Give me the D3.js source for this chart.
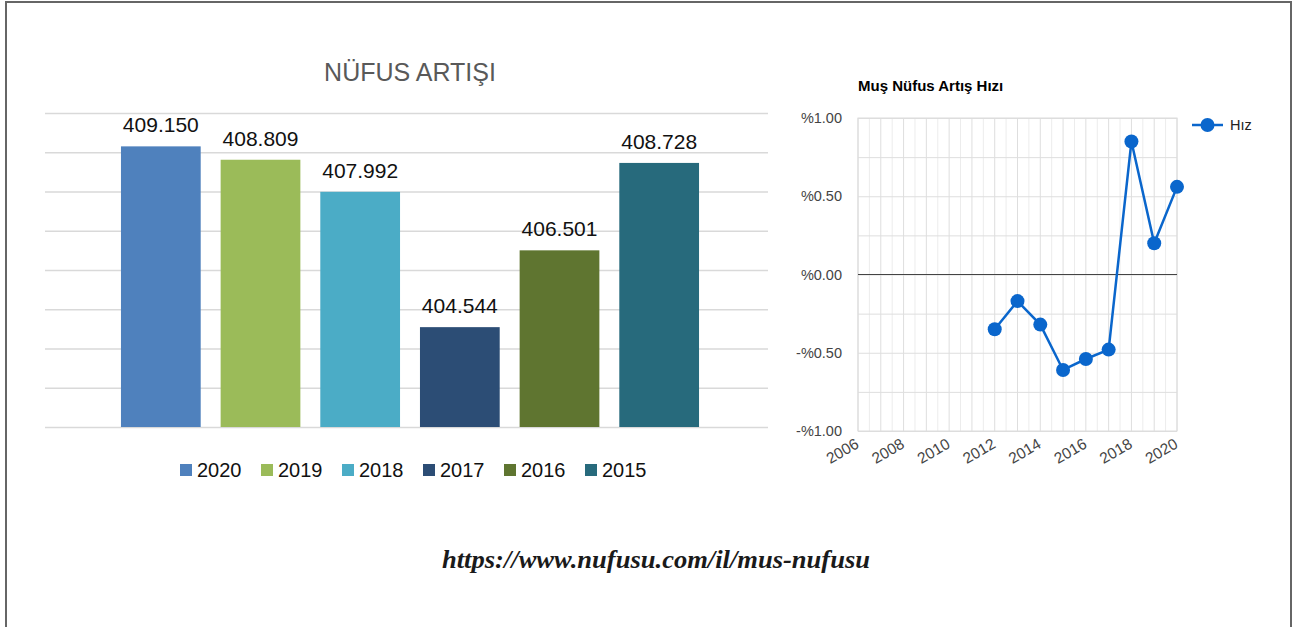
<!DOCTYPE html>
<html>
<head>
<meta charset="utf-8">
<script src="https://cdn.jsdelivr.net/npm/d3@7"></script>
<style>
  body { margin: 0; background: #fff; }
  svg { display: block; }
</style>
</head>
<body>
<svg id="chart" width="1296" height="627"></svg>
<script>
(function(d3) {
    // bar chart data
    var years = ['2020', '2019', '2018', '2017', '2016', '2015'];
    var population = [409150, 408809, 407992, 404544, 406501, 408728];
    var barColors = ['#4f81bd', '#9bbb59', '#4bacc6', '#2c4d75', '#5f7530', '#276a7c'];

    // growth rate line data
    var rateYears = [2012, 2013, 2014, 2015, 2016, 2017, 2018, 2019, 2020];
    var rates = [-0.35, -0.17, -0.32, -0.61, -0.54, -0.48, 0.85, 0.20, 0.56];
    var rateTicks = [-1, -0.5, 0, 0.5, 1];
    var yearTicks = [2006, 2008, 2010, 2012, 2014, 2016, 2018, 2020];

    var svg = d3.select('#chart');
    var tr = d3.formatLocale({decimal: ',', thousands: '.', grouping: [3], currency: ['', '']});
    var fmt = tr.format(',d');

    // outer frame
    svg.append('rect')
        .attr('x', 6).attr('y', 2)
        .attr('width', 1285).attr('height', 640)
        .attr('fill', 'none')
        .attr('stroke', '#666')
        .attr('stroke-width', 2);

    // ---------- bar chart ----------
    var x = d3.scaleBand().domain(years).range([111, 709]).paddingInner(0.2).paddingOuter(0.1);
    var y = d3.scaleLinear().domain([402000, 410000]).range([427, 113]);

    svg.append('g')
        .attr('transform', 'translate(45,0)')
        .call(d3.axisLeft(y).ticks(8).tickSize(-723).tickFormat(''))
        .call(function(g) {
            g.select('.domain').remove();
            g.selectAll('line').attr('stroke', '#d9d9d9').attr('stroke-width', 1.3);
        });

    svg.append('text')
        .attr('x', 410).attr('y', 81)
        .attr('text-anchor', 'middle')
        .attr('font-family', 'Liberation Sans, Arial, sans-serif')
        .attr('font-size', 25)
        .attr('fill', '#595959')
        .text('NÜFUS ARTIŞI');

    svg.selectAll('rect.bar')
        .data(population)
        .enter()
        .append('rect')
        .attr('class', 'bar')
        .attr('x', function(d, i) { return x(years[i]); })
        .attr('width', x.bandwidth())
        .attr('y', function(d) { return y(d); })
        .attr('height', function(d) { return y.range()[0] - y(d); })
        .attr('fill', function(d, i) { return barColors[i]; });

    svg.selectAll('text.val')
        .data(population)
        .enter()
        .append('text')
        .attr('class', 'val')
        .attr('x', function(d, i) { return x(years[i]) + x.bandwidth() / 2; })
        .attr('y', function(d) { return y(d) - 14; })
        .attr('text-anchor', 'middle')
        .attr('font-family', 'Liberation Sans, Arial, sans-serif')
        .attr('font-size', 21)
        .attr('fill', '#111')
        .text(function(d) { return fmt(d); });

    var leg = svg.selectAll('g.leg')
        .data(years)
        .enter()
        .append('g')
        .attr('class', 'leg')
        .attr('transform', function(d, i) { return 'translate(' + (180 + i * 81) + ',464)'; });
    leg.append('rect')
        .attr('width', 12).attr('height', 12)
        .attr('fill', function(d, i) { return barColors[i]; });
    leg.append('text')
        .attr('x', 17).attr('y', 13)
        .attr('font-family', 'Liberation Sans, Arial, sans-serif')
        .attr('font-size', 20)
        .attr('fill', '#111')
        .text(function(d) { return d; });

    // ---------- line chart ----------
    var lx = d3.scaleLinear().domain([2006, 2020]).range([858, 1177]);
    var ly = d3.scaleLinear().domain([-1, 1]).range([431, 118]);

    svg.append('rect')
        .attr('x', 858).attr('y', 118)
        .attr('width', 319).attr('height', 313)
        .attr('fill', '#fff');

    var minorX = d3.range(2006, 2020.01, 0.5);
    svg.append('g').selectAll('line')
        .data(minorX)
        .enter()
        .append('line')
        .attr('x1', function(d) { return lx(d); })
        .attr('x2', function(d) { return lx(d); })
        .attr('y1', ly(1)).attr('y2', ly(-1))
        .attr('stroke', function(d) { return d % 1 === 0 ? '#dedede' : '#ececec'; })
        .attr('stroke-width', 1);

    svg.append('g')
        .attr('transform', 'translate(858,0)')
        .call(d3.axisLeft(ly).tickValues(d3.range(-1, 1.01, 0.25)).tickSize(-319).tickFormat(''))
        .call(function(g) {
            g.select('.domain').remove();
            g.selectAll('line').attr('stroke', '#dedede');
        });

    svg.append('rect')
        .attr('x', 858).attr('y', 118)
        .attr('width', 319).attr('height', 313)
        .attr('fill', 'none')
        .attr('stroke', '#dcdcdc');

    svg.append('line')
        .attr('x1', 858).attr('x2', 1177)
        .attr('y1', ly(0)).attr('y2', ly(0))
        .attr('stroke', '#444').attr('stroke-width', 1.2);

    svg.append('text')
        .attr('x', 858).attr('y', 91)
        .attr('font-family', 'Liberation Sans, Arial, sans-serif')
        .attr('font-size', 15)
        .attr('font-weight', 'bold')
        .attr('fill', '#000')
        .text('Muş Nüfus Artış Hızı');

    svg.append('g').selectAll('text')
        .data(rateTicks)
        .enter()
        .append('text')
        .attr('x', 842)
        .attr('y', function(d) { return ly(d) + 5; })
        .attr('text-anchor', 'end')
        .attr('font-family', 'Liberation Sans, Arial, sans-serif')
        .attr('font-size', 14.5)
        .attr('fill', '#444')
        .text(function(d) { return (d < 0 ? '-%' : '%') + Math.abs(d).toFixed(2); });

    svg.append('g').selectAll('text')
        .data(yearTicks)
        .enter()
        .append('text')
        .attr('transform', function(d) { return 'translate(' + (lx(d) + 2) + ',447) rotate(-30)'; })
        .attr('text-anchor', 'end')
        .attr('font-family', 'Liberation Sans, Arial, sans-serif')
        .attr('font-size', 15.5)
        .attr('fill', '#444')
        .text(function(d) { return d; });

    var line = d3.line()
        .x(function(d, i) { return lx(rateYears[i]); })
        .y(function(d) { return ly(d); });

    svg.append('path')
        .datum(rates)
        .attr('d', line)
        .attr('fill', 'none')
        .attr('stroke', '#0a66cc')
        .attr('stroke-width', 2.5);

    svg.selectAll('circle.pt')
        .data(rates)
        .enter()
        .append('circle')
        .attr('class', 'pt')
        .attr('cx', function(d, i) { return lx(rateYears[i]); })
        .attr('cy', function(d) { return ly(d); })
        .attr('r', 7)
        .attr('fill', '#0a66cc');

    svg.append('line')
        .attr('x1', 1192).attr('x2', 1223)
        .attr('y1', 125).attr('y2', 125)
        .attr('stroke', '#0a66cc').attr('stroke-width', 2.5);
    svg.append('circle')
        .attr('cx', 1207.5).attr('cy', 125).attr('r', 7)
        .attr('fill', '#0a66cc');
    svg.append('text')
        .attr('x', 1230).attr('y', 130)
        .attr('font-family', 'Liberation Sans, Arial, sans-serif')
        .attr('font-size', 14.5)
        .attr('fill', '#222')
        .text('Hız');

    // source link
    svg.append('text')
        .attr('x', 656).attr('y', 568)
        .attr('text-anchor', 'middle')
        .attr('font-family', 'Liberation Serif, Times New Roman, serif')
        .attr('font-size', 26)
        .attr('font-weight', 'bold')
        .attr('font-style', 'italic')
        .attr('fill', '#1a1a1a')
        .attr('textLength', 428)
        .attr('lengthAdjust', 'spacingAndGlyphs')
        .text('https://www.nufusu.com/il/mus-nufusu');
}(window.d3));
</script>
</body>
</html>
